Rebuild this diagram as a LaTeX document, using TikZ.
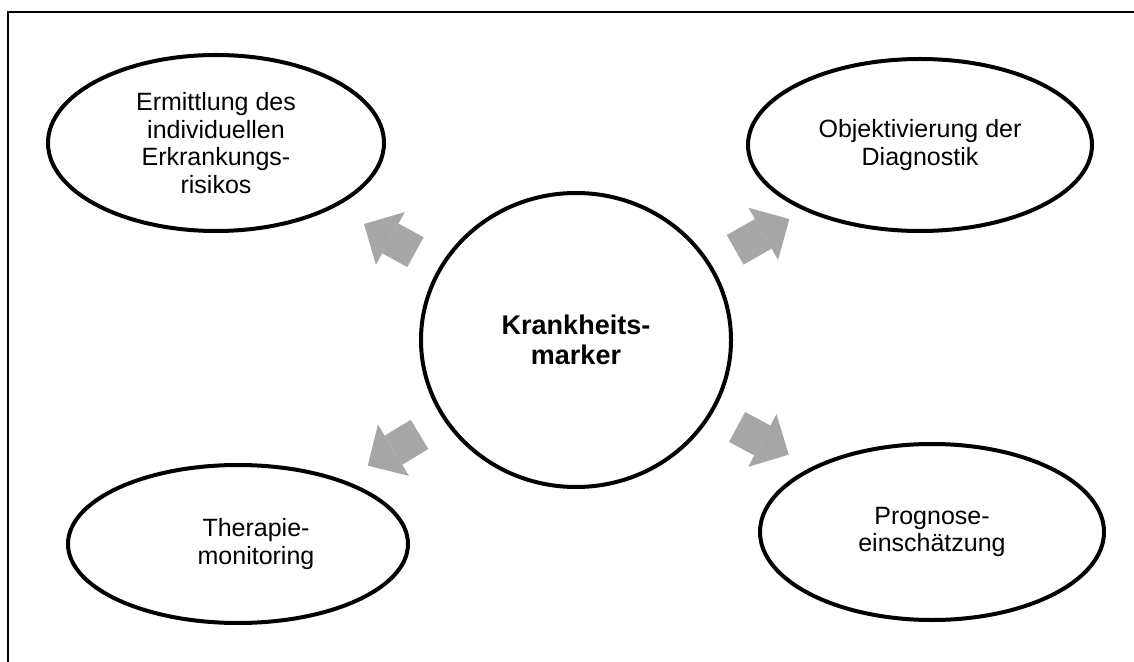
\documentclass[tikz,border=0pt]{standalone}
\usepackage{fontspec}
\setmainfont{Liberation Sans}
\usetikzlibrary{arrows.meta,shapes.geometric}

\definecolor{arrowgray}{RGB}{166,166,166}

\begin{document}
\begin{tikzpicture}[x=0.5pt,y=-0.5pt,
  every node/.append style={align=center,font=\fontsize{12.5}{13.7}\selectfont},
  bubble/.style={ellipse, draw, line width=2pt, inner sep=0pt},
  hub/.style={bubble, font=\fontsize{13.5}{15}\selectfont\bfseries},
  push/.style={draw=arrowgray, line width=17pt, -{Triangle[width=30pt,length=15pt,line width=0pt]}, shorten <=14pt}]
    \useasboundingbox (0,0) rectangle (1134,662);
    \clip (0,0) rectangle (1134,662);
    \draw[line width=1pt] (8,12) rectangle (1150,690);
    \node [hub, minimum width=155pt, minimum height=147pt] (K) at (576,340) {Krankheits-\\marker};
    \node [bubble, minimum width=168pt, minimum height=88pt] (Er) at (216,143) {Ermittlung des\\individuellen\\Erkrankungs-\\risikos};
    \node [bubble, minimum width=172pt, minimum height=86pt] (Ob) at (920,145) {Objektivierung der\\Diagnostik};
    \node [bubble, minimum width=170pt, minimum height=79pt,
      label={[align=center,xshift=9pt]center:{Therapie-\\monitoring}}] (Th) at (238,544) {};
    \node [bubble, minimum width=172pt, minimum height=88pt] (Pr) at (932,532) {Prognose-\\einschätzung};
    \draw[push, shorten >=17pt] (K) -- (Er);
    \draw[push, shorten >=8.5pt] (K) -- (Ob);
    \draw[push, shorten >=14pt] (K) -- (Th);
    \draw[push, shorten >=13pt] (K) -- (Pr);
\end{tikzpicture}
\end{document}
